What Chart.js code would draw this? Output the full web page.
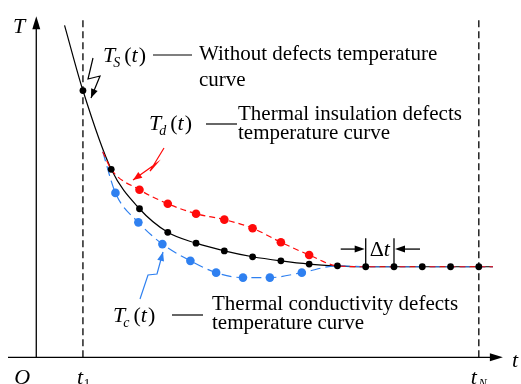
<!DOCTYPE html>
<html>
<head>
<meta charset="utf-8">
<script src="https://cdn.jsdelivr.net/npm/chart.js@4.4.0/dist/chart.umd.min.js"></script>
<style>
  body { margin: 0; background: #fff; }
</style>
</head>
<body>
<canvas id="myChart" width="521" height="384"></canvas>
<script>
// sample instants t1 ... tN (step = delta t)
var sampleTimes = [16.5, 26.5, 36.5, 46.5, 56.5, 66.5, 76.5, 86.5, 96.5, 106.5, 116.5, 126.5, 136.5, 146.5, 156.5];
// Ts(t) : without defects
var tsValues = [58.9, 41.5, 32.8, 27.6, 25.2, 23.5, 22.2, 21.3, 20.6, 20.2, 20, 20, 20, 20, 20];
// the solid curve starts a bit before t1 and ends a bit after tN
var tsCurveTimes = [10].concat(sampleTimes, [161.5]);
var tsCurveValues = [73.3].concat(tsValues, [20]);

// Td(t) : thermal insulation defects
var tdTimes = [23.5, 26.5, 36.5, 46.5, 56.5, 66.5, 76.5, 86.5, 96.5, 106.5, 116.5, 126.5, 136.5, 146.5, 156.5, 161.5];
var tdValues = [45.4, 41.5, 37.0, 33.9, 31.7, 30.4, 28.5, 25.4, 22.6, 20.2, 20, 20, 20, 20, 20, 20];

// Tc(t) : thermal conductivity defects
var tcTimes = [23.5, 28.0, 36.1, 44.6, 54.5, 63.6, 73.1, 82.6, 93.9, 106.5, 116.5, 126.5, 136.5, 146.5, 156.5, 161.5];
var tcValues = [45.4, 36.3, 29.8, 25.0, 21.3, 18.7, 17.6, 17.6, 18.7, 20.2, 20, 20, 20, 20, 20, 20];

// axis marks
var tickNames = ['O', 't1', 'tN'];
var tickTimes = [0, 16.5, 156.5];

function pts(xs, ys) {
  return xs.map(function (x, i) { return { x: x, y: ys[i] }; });
}

var RED = '#ff0a0a';
var BLUE = '#2f80f0';
var SERIF = '"Liberation Serif", "Times New Roman", serif';

function arrowHead(ctx, fx, fy, tx, ty, len, half) {
  var a = Math.atan2(ty - fy, tx - fx);
  ctx.beginPath();
  ctx.moveTo(tx, ty);
  ctx.lineTo(tx - len * Math.cos(a) + half * Math.sin(a), ty - len * Math.sin(a) - half * Math.cos(a));
  ctx.lineTo(tx - len * Math.cos(a) - half * Math.sin(a), ty - len * Math.sin(a) + half * Math.cos(a));
  ctx.closePath();
  ctx.fill();
}

function zigzag(ctx, p, color) {
  ctx.strokeStyle = color;
  ctx.fillStyle = color;
  ctx.lineWidth = 1.2;
  ctx.setLineDash([]);
  ctx.beginPath();
  ctx.moveTo(p[0][0], p[0][1]);
  for (var i = 1; i < p.length; i++) ctx.lineTo(p[i][0], p[i][1]);
  ctx.stroke();
  var n = p.length;
  arrowHead(ctx, p[n - 2][0], p[n - 2][1], p[n - 1][0], p[n - 1][1], 9, 3.5);
}

function funcLabel(ctx, x, base, sub) {
  ctx.fillStyle = '#000';
  ctx.textAlign = 'left';
  ctx.textBaseline = 'alphabetic';
  ctx.font = 'italic 22px ' + SERIF;
  ctx.fillText('T', x, base);
  var w = ctx.measureText('T').width;
  ctx.font = 'italic 14px ' + SERIF;
  ctx.fillText(sub, x + w - 2, base + 5);
  var ws = ctx.measureText(sub).width;
  var cx = x + w + ws + 2;
  ctx.font = '22px ' + SERIF;
  ctx.fillText('(', cx, base);
  cx += ctx.measureText('(').width;
  ctx.font = 'italic 22px ' + SERIF;
  ctx.fillText('t', cx, base);
  cx += ctx.measureText('t').width + 1;
  ctx.font = '22px ' + SERIF;
  ctx.fillText(')', cx, base);
}

function textLines(ctx, x, base, lines, gap) {
  ctx.fillStyle = '#000';
  ctx.textAlign = 'left';
  ctx.font = '21px ' + SERIF;
  lines.forEach(function (s, i) { ctx.fillText(s, x, base + i * gap); });
}

function dash(ctx, x1, y1, x2, y2) {
  ctx.beginPath();
  ctx.moveTo(x1, y1);
  ctx.lineTo(x2, y2);
  ctx.stroke();
}

var sketchPlugin = {
  id: 'sketch',
  afterDraw: function (chart) {
    var ctx = chart.ctx;
    var xs = chart.scales.x, ys = chart.scales.y;
    var X = function (v) { return xs.getPixelForValue(v); };
    var Y = function (v) { return ys.getPixelForValue(v); };
    ctx.save();

    // axes with arrows
    ctx.strokeStyle = '#000';
    ctx.fillStyle = '#000';
    ctx.lineWidth = 1.3;
    ctx.setLineDash([]);
    dash(ctx, X(-10), Y(0), X(163), Y(0));
    arrowHead(ctx, X(0), Y(0), X(165), Y(0), 13, 4);
    dash(ctx, X(0), Y(0), X(0), Y(73));
    arrowHead(ctx, X(0), Y(0), X(0), Y(75.3), 13, 4);

    // t1 and tN dashed markers
    ctx.setLineDash([7, 4]);
    dash(ctx, X(tickTimes[1]), Y(0), X(tickTimes[1]), Y(75));
    dash(ctx, X(tickTimes[2]), Y(0), X(tickTimes[2]), Y(74.5));
    ctx.setLineDash([]);

    // axis letters
    ctx.fillStyle = '#000';
    ctx.textBaseline = 'alphabetic';
    ctx.textAlign = 'center';
    ctx.font = 'italic 22px ' + SERIF;
    ctx.fillText('T', 19, 33);
    ctx.fillText('t', 515, 367);
    ctx.fillText(tickNames[0], X(tickTimes[0]) - 14, 384);
    ctx.fillText('t', X(tickTimes[1]) - 3, 384);
    ctx.fillText('t', X(tickTimes[2]) - 5, 384);
    ctx.font = '13px ' + SERIF;
    ctx.fillText('1', X(tickTimes[1]) + 4, 387);
    ctx.font = 'italic 12px ' + SERIF;
    ctx.fillText('N', X(tickTimes[2]) + 4, 387);

    // delta t between two samples
    var a = sampleTimes[10], b = sampleTimes[11];
    ctx.lineWidth = 1.3;
    dash(ctx, X(a), Y(20), X(a), Y(26.3));
    dash(ctx, X(b), Y(20), X(b), Y(26.3));
    dash(ctx, X(a) - 25, Y(23.9), X(a) - 8, Y(23.9));
    arrowHead(ctx, X(a) - 25, Y(23.9), X(a) - 1, Y(23.9), 10, 3.5);
    dash(ctx, X(b) + 26, Y(23.9), X(b) + 8, Y(23.9));
    arrowHead(ctx, X(b) + 26, Y(23.9), X(b) + 1, Y(23.9), 10, 3.5);
    ctx.textAlign = 'left';
    ctx.font = '22px ' + SERIF;
    ctx.fillText('\u0394', X(a) + 4, Y(23.9) + 7);
    var dw = ctx.measureText('\u0394').width;
    ctx.font = 'italic 22px ' + SERIF;
    ctx.fillText('t', X(a) + 4 + dw, Y(23.9) + 7);

    // curve labels
    funcLabel(ctx, 103, 62, 'S');
    ctx.lineWidth = 1.2;
    dash(ctx, 153, 55, 192, 55);
    textLines(ctx, 199, 60, ['Without defects temperature', 'curve'], 26);

    funcLabel(ctx, 149, 130, 'd');
    dash(ctx, 206, 124, 237, 124);
    textLines(ctx, 238, 120, ['Thermal insulation defects', 'temperature curve'], 19);

    funcLabel(ctx, 113, 322, 'c');
    dash(ctx, 172, 315, 203, 315);
    textLines(ctx, 212, 310, ['Thermal conductivity defects', 'temperature curve'], 19);

    // lightning pointers
    zigzag(ctx, [[93, 58], [88, 79], [100, 76], [91, 98]], '#000');
    zigzag(ctx, [[164, 148], [150, 171], [157, 163], [133, 180]], RED);
    zigzag(ctx, [[140, 299], [148, 275], [157, 274], [163, 252]], BLUE);

    ctx.restore();
  }
};

new Chart(document.getElementById('myChart'), {
  type: 'line',
  data: {
    datasets: [{
      label: 'Ts line',
      data: pts(tsCurveTimes, tsCurveValues),
      borderColor: '#000',
      borderWidth: 1.2,
      pointRadius: 0,
      cubicInterpolationMode: 'monotone',
      order: 5
    }, {
      label: 'Tc',
      data: pts(tcTimes, tcValues),
      borderColor: BLUE,
      backgroundColor: BLUE,
      borderWidth: 1.2,
      borderDash: [10, 5],
      pointRadius: function (c) { return c.dataIndex >= 1 && c.dataIndex <= 8 ? 4.3 : 0; },
      pointBorderWidth: 0,
      cubicInterpolationMode: 'monotone',
      order: 4
    }, {
      label: 'Td',
      data: pts(tdTimes, tdValues),
      borderColor: RED,
      backgroundColor: RED,
      borderWidth: 1.2,
      borderDash: [6, 4],
      pointRadius: function (c) { return c.dataIndex >= 2 && c.dataIndex <= 8 ? 4.3 : 0; },
      pointBorderWidth: 0,
      cubicInterpolationMode: 'monotone',
      order: 3
    }, {
      label: 'Ts samples',
      data: pts(sampleTimes, tsValues),
      showLine: false,
      backgroundColor: '#000',
      borderColor: '#000',
      pointRadius: 3.4,
      pointBorderWidth: 0,
      order: 1
    }]
  },
  options: {
    responsive: false,
    animation: false,
    devicePixelRatio: 1,
    layout: { padding: { left: 8, right: 2, top: 0, bottom: 2 } },
    plugins: { legend: { display: false }, tooltip: { enabled: false } },
    scales: {
      x: { type: 'linear', min: -10, max: 170, display: false },
      y: { type: 'linear', min: -5, max: 78, display: false }
    }
  },
  plugins: [sketchPlugin]
});
</script>
</body>
</html>
